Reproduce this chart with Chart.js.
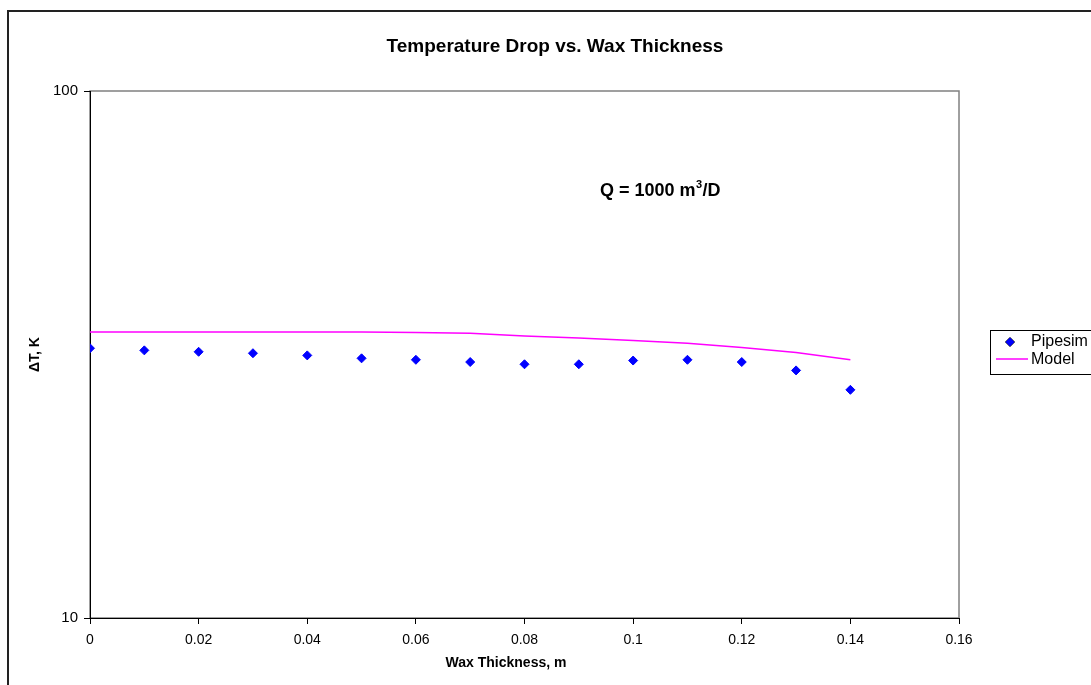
<!DOCTYPE html>
<html>
<head>
<meta charset="utf-8">
<script src="https://cdn.jsdelivr.net/npm/chart.js@4/dist/chart.umd.min.js"></script>
<style>
  html, body { margin: 0; padding: 0; background: #fff; }
  canvas { display: block; }
</style>
</head>
<body>
<canvas id="waxChart" width="1091" height="685"></canvas>
<script>
// wax thickness, m
const thickness = [0, 0.01, 0.02, 0.03, 0.04, 0.05, 0.06, 0.07, 0.08, 0.09, 0.10, 0.11, 0.12, 0.13, 0.14];
// temperature drop, K
const pipesimDT = [32.5, 32.2, 32.0, 31.8, 31.5, 31.1, 30.9, 30.6, 30.3, 30.3, 30.8, 30.9, 30.6, 29.5, 27.1];
const modelDT = [34.9, 34.9, 34.9, 34.9, 34.9, 34.9, 34.8, 34.7, 34.3, 34.0, 33.6, 33.2, 32.6, 31.9, 30.9];

const xTicks = [0, 0.02, 0.04, 0.06, 0.08, 0.1, 0.12, 0.14, 0.16];
const xTickLabels = ['0', '0.02', '0.04', '0.06', '0.08', '0.1', '0.12', '0.14', '0.16'];
const yTicks = [10, 100];

const FONT = '"Liberation Sans", Arial, sans-serif';

const decorations = {
    id: 'decorations',
    beforeDraw(chart) {
        const { ctx, chartArea: a } = chart;
        ctx.save();
        ctx.fillStyle = '#fff';
        ctx.fillRect(0, 0, chart.width, chart.height);
        // outer frame
        ctx.strokeStyle = '#222';
        ctx.lineWidth = 2;
        ctx.beginPath();
        ctx.moveTo(8, chart.height);
        ctx.lineTo(8, 11);
        ctx.lineTo(chart.width, 11);
        ctx.stroke();
        // plot frame
        ctx.strokeStyle = '#808080';
        ctx.lineWidth = 1.5;
        ctx.strokeRect(a.left, a.top, a.right - a.left, a.bottom - a.top);
        ctx.restore();
    },
    afterDraw(chart) {
        const { ctx, chartArea: a, scales } = chart;
        ctx.save();
        ctx.fillStyle = '#000';
        ctx.textAlign = 'center';
        ctx.textBaseline = 'middle';

        ctx.font = 'bold 19px ' + FONT;
        ctx.fillText('Temperature Drop vs. Wax Thickness', 555, 47);

        ctx.font = 'bold 14px ' + FONT;
        ctx.fillText('Wax Thickness, m', 506, 663);

        ctx.save();
        ctx.translate(35, (a.top + a.bottom) / 2);
        ctx.rotate(-Math.PI / 2);
        ctx.fillText('\u0394T, K', 0, 0);
        ctx.restore();

        // annotation placed in data space, with a raised small "3"
        const cx = scales.x.getPixelForValue(0.105);
        const cy = scales.y.getPixelForValue(64.5);
        const big = 'bold 18px ' + FONT, small = 'bold 11px ' + FONT;
        const p1 = 'Q = 1000 m', p2 = '3', p3 = '/D';
        ctx.font = big;
        const w1 = ctx.measureText(p1).width, w3 = ctx.measureText(p3).width;
        ctx.font = small;
        const w2 = ctx.measureText(p2).width + 1;
        let sx = cx - (w1 + w2 + w3) / 2;
        ctx.textAlign = 'left';
        ctx.font = big;
        ctx.fillText(p1, sx, cy);
        ctx.font = small;
        ctx.fillText(p2, sx + w1 + 0.5, cy - 6);
        ctx.font = big;
        ctx.fillText(p3, sx + w1 + w2, cy);

        // legend
        const ds = chart.data.datasets;
        ctx.strokeStyle = '#000';
        ctx.lineWidth = 1;
        ctx.strokeRect(990.5, 330.5, 120, 44);
        ctx.font = '16px ' + FONT;
        Chart.helpers.drawPoint(ctx, {
            pointStyle: 'rectRot', radius: 4.5, rotation: 0, borderWidth: 1
        }, 1010, 342);
        ctx.fillStyle = ds[0].backgroundColor;
        ctx.strokeStyle = ds[0].borderColor;
        ctx.fill();
        ctx.fillStyle = '#000';
        ctx.fillText(ds[0].label, 1031, 342);
        ctx.strokeStyle = ds[1].borderColor;
        ctx.lineWidth = 1.5;
        ctx.beginPath();
        ctx.moveTo(996, 359);
        ctx.lineTo(1028, 359);
        ctx.stroke();
        ctx.fillText(ds[1].label, 1031, 360);
        ctx.restore();
    }
};

new Chart(document.getElementById('waxChart'), {
    type: 'scatter',
    data: {
        datasets: [
            {
                label: 'Pipesim',
                data: thickness.map((x, i) => ({ x: x, y: pipesimDT[i] })),
                backgroundColor: '#0000FF',
                borderColor: '#0000FF',
                pointStyle: 'rectRot',
                pointRadius: 4.5,
                borderWidth: 1
            },
            {
                label: 'Model',
                data: thickness.map((x, i) => ({ x: x, y: modelDT[i] })),
                showLine: true,
                borderColor: '#FF00FF',
                backgroundColor: '#FF00FF',
                borderWidth: 1.5,
                pointRadius: 0,
                tension: 0
            }
        ]
    },
    options: {
        responsive: false,
        animation: false,
        layout: { padding: { left: 20, top: 91, right: 132, bottom: 0 } },
        plugins: {
            legend: { display: false },
            title: { display: false },
            tooltip: { enabled: false }
        },
        scales: {
            x: {
                type: 'linear',
                min: 0,
                max: 0.16,
                afterBuildTicks: s => { s.ticks = xTicks.map(v => ({ value: v })); },
                afterFit: s => { s.height = 67; },
                ticks: {
                    color: '#000',
                    font: { family: FONT, size: 14 },
                    padding: 8,
                    maxRotation: 0,
                    callback: (v) => xTickLabels[xTicks.indexOf(v)] ?? ''
                },
                grid: { drawOnChartArea: false, drawTicks: true, tickLength: 6, color: '#000' },
                border: { display: true, color: '#000', width: 1 }
            },
            y: {
                type: 'logarithmic',
                min: 10,
                max: 100,
                afterBuildTicks: s => { s.ticks = yTicks.map(v => ({ value: v })); },
                afterFit: s => { s.width = 70; },
                ticks: {
                    color: '#000',
                    font: { family: FONT, size: 15 },
                    padding: 6,
                    callback: v => String(v)
                },
                grid: { drawOnChartArea: false, drawTicks: true, tickLength: 6, color: '#000' },
                border: { display: true, color: '#000', width: 1 }
            }
        }
    },
    plugins: [decorations]
});
</script>
</body>
</html>
